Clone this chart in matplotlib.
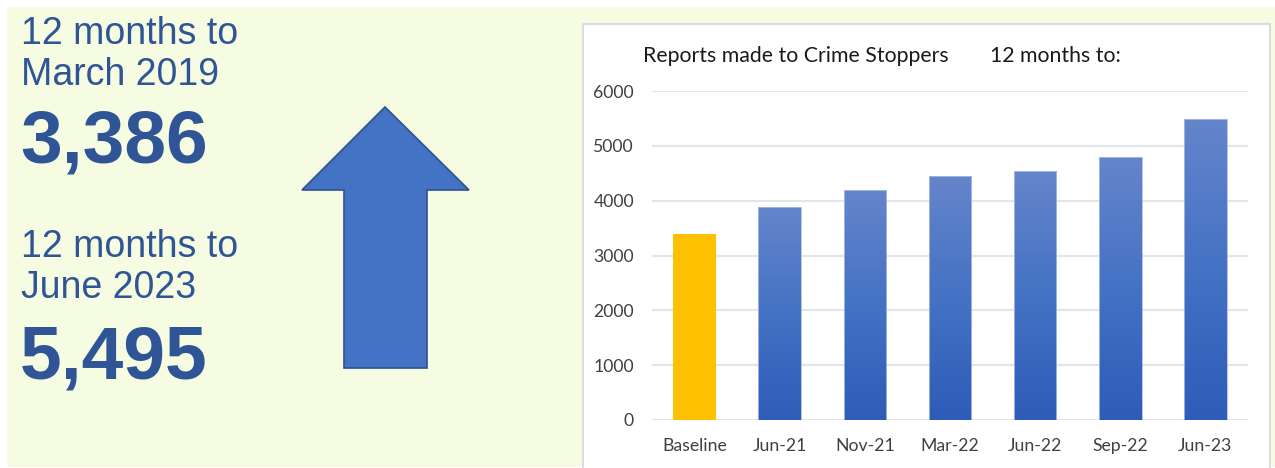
import numpy as np
import matplotlib
matplotlib.use("Agg")
import matplotlib.pyplot as plt
from matplotlib.patches import Rectangle, Polygon
from matplotlib.colors import LinearSegmentedColormap

##### DATA #####

categories = ["Baseline", "Jun-21", "Nov-21", "Mar-22", "Jun-22", "Sep-22", "Jun-23"]
reports = [3386, 3890, 4200, 4450, 4540, 4800, 5495]
baseline_label = ["12 months to", "March 2019"]
baseline_value = "3,386"
latest_label = ["12 months to", "June 2023"]
latest_value = "5,495"

W, H = 1275, 468
TEXT_BLUE = "#2F5597"


def fx(px):
    return px / W


def fy(py):
    return 1 - py / H


fig = plt.figure(figsize=(W / 100, H / 100), dpi=100)
fig.patch.set_facecolor("white")

# panels
fig.add_artist(Rectangle((fx(7), fy(467)), fx(1275) - fx(7), fy(7) - fy(467),
                         transform=fig.transFigure, facecolor="#F5FCE1", edgecolor="none", zorder=0))
fig.add_artist(Rectangle((fx(583), fy(470)), fx(1270) - fx(583), fy(24) - fy(470),
                         transform=fig.transFigure, facecolor="white", edgecolor="#D9DCE2",
                         linewidth=1.5, zorder=1))

# left side text
small = dict(fontsize=27, color=TEXT_BLUE, family="Liberation Sans", va="baseline")
big = dict(fontsize=54, color=TEXT_BLUE, weight="bold", family="Liberation Sans", va="baseline")
fig.text(fx(21), fy(44), baseline_label[0], **small)
fig.text(fx(21), fy(85), baseline_label[1], **small)
fig.text(fx(20), fy(163), baseline_value, **big)
fig.text(fx(21), fy(257), latest_label[0], **small)
fig.text(fx(21), fy(298), latest_label[1], **small)
fig.text(fx(20), fy(378), latest_value, **big)

# up arrow
arrow_px = [(385, 107), (469, 190), (427, 190), (427, 368), (344, 368), (344, 190), (302, 190)]
fig.add_artist(Polygon([(fx(x), fy(y)) for x, y in arrow_px], closed=True,
                       transform=fig.transFigure, facecolor="#4472C4",
                       edgecolor="#2F528F", linewidth=1.2, zorder=2))

##### CHART #####

ax = fig.add_axes([fx(652), fy(420), fx(1248) - fx(652), fy(91) - fy(420)])
ax.set_facecolor("none")
ax.set_zorder(3)

x = np.arange(len(categories))
bars = ax.bar(x, reports, width=0.5, color="none", edgecolor="none", zorder=3)

blue_grad = LinearSegmentedColormap.from_list("bg", ["#2E5CB8", "#4472C4", "#6585CB"])
grad = np.linspace(0, 1, 256).reshape(-1, 1)
for i, b in enumerate(bars):
    x0, w, h = b.get_x(), b.get_width(), b.get_height()
    if i == 0:
        b.set_facecolor("#FFC000")
        continue
    im = ax.imshow(grad, cmap=blue_grad, origin="lower", aspect="auto",
                   extent=(x0, x0 + w, 0, h), zorder=3)
    im.set_clip_path(b)
    ax.add_patch(Rectangle((x0, 0), w, h, facecolor="none", edgecolor="#A9BDE8",
                           linewidth=0.6, zorder=4))

ax.set_xlim(-0.5, len(categories) - 0.5)
ax.set_ylim(0, 6000)
ax.set_yticks(range(0, 6001, 1000))
ax.set_xticks(x)
ax.set_xticklabels(categories)
ax.yaxis.grid(True, color="#E1E4EA", linewidth=1.5, zorder=0)
ax.set_axisbelow(True)
for s in ax.spines.values():
    s.set_visible(False)
ax.tick_params(length=0, labelsize=12.7, labelcolor="#404040")
ax.tick_params(axis="y", pad=13)
ax.tick_params(axis="x", pad=13)
for lbl in ax.get_xticklabels() + ax.get_yticklabels():
    lbl.set_family("Lato")

title = dict(fontsize=15.3, color="#1A1A1A", family="Lato", va="baseline", zorder=5)
fig.text(fx(643), fy(62), "Reports made to Crime Stoppers", **title)
fig.text(fx(990), fy(62), "12 months to:", **title)

fig.savefig("out.png", dpi=100)
